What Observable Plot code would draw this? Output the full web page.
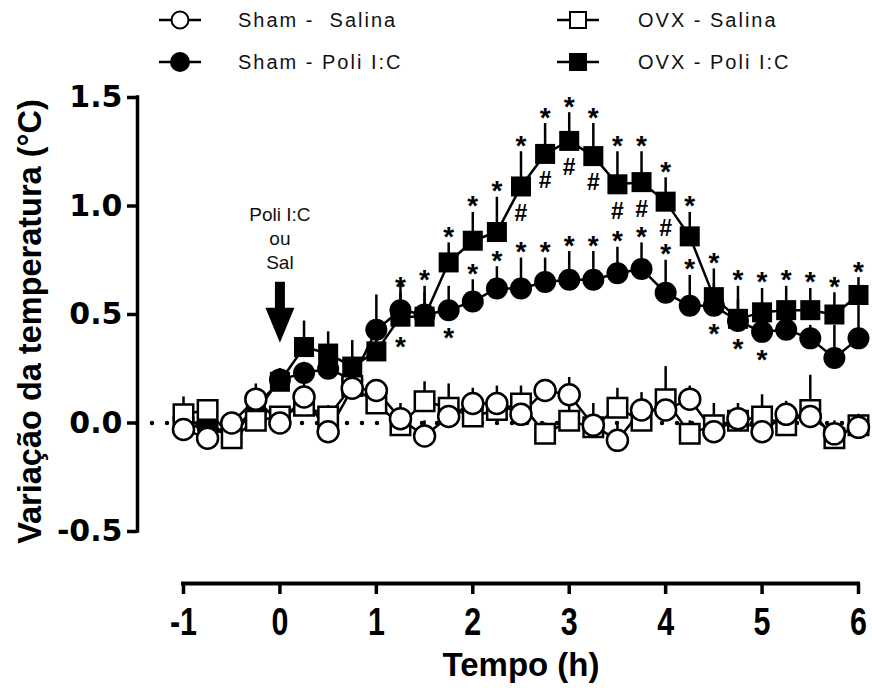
<!DOCTYPE html>
<html><head><meta charset="utf-8">
<script src="https://cdn.jsdelivr.net/npm/d3@7"></script>
<script src="https://cdn.jsdelivr.net/npm/@observablehq/plot@0.6"></script>
<style>
body{margin:0;background:#fff;}
svg{display:block}
#legend text{font-family:"Liberation Sans",Arial,sans-serif;font-size:20px;letter-spacing:2px;white-space:pre;fill:#111;}
</style></head><body>
<svg id="legend" width="872" height="80"></svg>
<div id="chart"></div>
<script>
// ---- data ----
const times = [-1,-0.75,-0.5,-0.25,0,0.25,0.5,0.75,1,1.25,1.5,1.75,2,2.25,2.5,2.75,3,3.25,3.5,3.75,4,4.25,4.5,4.75,5,5.25,5.5,5.75,6];

const shamSalina    = [-0.03,-0.07,0.00,0.11,0.00,0.12,-0.04,0.16,0.15,0.02,-0.06,0.03,0.09,0.09,0.04,0.15,0.13,-0.01,-0.08,0.06,0.06,0.11,-0.04,0.02,-0.04,0.04,0.03,-0.05,-0.02];
const shamSalinaSem = [0.03,0.03,0.03,0.07,0.03,0.09,0.04,0.04,0.03,0.07,0.07,0.04,0.07,0.08,0.04,0.05,0.08,0.10,0.07,0.08,0.04,0.06,0.04,0.07,0.04,0.06,0.04,0.06,0.06];

const ovxSalina     = [0.04,0.06,-0.07,0.01,0.03,0.08,0.03,0.17,0.09,-0.01,0.10,0.07,0.03,0.06,0.09,-0.05,0.01,-0.02,0.07,0.01,0.11,-0.05,-0.01,0.01,0.03,-0.01,0.06,-0.07,-0.01];
const ovxSalinaSem  = [0.08,0.04,0.04,0.05,0.04,0.05,0.05,0.06,0.07,0.05,0.09,0.11,0.05,0.05,0.08,0.05,0.10,0.05,0.09,0.04,0.15,0.06,0.10,0.04,0.10,0.04,0.16,0.05,0.04];

const shamPoli      = [0.02,-0.02,-0.04,0.05,0.20,0.23,0.25,0.20,0.43,0.52,0.50,0.52,0.56,0.62,0.62,0.65,0.66,0.66,0.69,0.71,0.60,0.54,0.54,0.47,0.42,0.43,0.39,0.30,0.39];
const shamPoliSem   = [0.03,0.03,0.03,0.04,0.05,0.05,0.05,0.05,0.16,0.13,0.10,0.11,0.10,0.10,0.14,0.11,0.13,0.13,0.12,0.12,0.15,0.14,0.10,0.10,0.08,0.05,0.06,0.15,0.18];

const ovxPoli       = [0.00,-0.03,-0.05,0.08,0.19,0.35,0.32,0.26,0.33,0.49,0.49,0.74,0.84,0.88,1.09,1.24,1.30,1.23,1.10,1.11,1.02,0.86,0.58,0.48,0.51,0.52,0.52,0.50,0.59];
const ovxPoliSem    = [0.05,0.04,0.04,0.05,0.06,0.12,0.10,0.12,0.10,0.11,0.14,0.09,0.13,0.16,0.16,0.14,0.13,0.15,0.15,0.14,0.11,0.11,0.13,0.15,0.11,0.11,0.10,0.10,0.08];

const seriesNames = ["Sham -  Salina", "Sham - Poli I:C", "OVX - Salina", "OVX - Poli I:C"];

// significance marks
const starsAboveOvxPoli = [1.25,1.5,1.75,2,2.25,2.5,2.75,3,3.25,3.5,3.75,4,4.25,4.5,4.75,5,5.25,5.5,5.75,6];
const starsAboveShamPoli = [2,2.25,2.5,2.75,3,3.25,3.5,3.75,4,4.25];
const starsBelowShamPoli = [1.75,4.5,4.75,5];
const starsBelowOvxPoli = [1.25];
const hashesBelowOvxPoli = [2.5,2.75,3,3.25,3.5,3.75,4];

// injection arrow annotation
const arrowTime = 0;
const arrowTipValue = 0.37;
const arrowLabelValue = 0.855;
const arrowLabel = "Poli I:C\nou\nSal";

const xTicks = [-1,0,1,2,3,4,5,6];
const yTicks = [-0.5,0,0.5,1,1.5];
const xTitle = "Tempo (h)";
const yTitle = "Variação da temperatura (°C)";

// ---- build tables ----
const rows = (vals, sems) => times.map((t, i) => ({t, v: vals[i], sem: sems[i]}));
const sS = rows(shamSalina, shamSalinaSem);
const oS = rows(ovxSalina, ovxSalinaSem);
const sP = rows(shamPoli, shamPoliSem);
const oP = rows(ovxPoli, ovxPoliSem);
const at = (tbl, t) => tbl.find(d => d.t === t);
const above = (tbl, ts) => ts.map(t => { const d = at(tbl, t); return {t, y: d.v + d.sem}; });
const below = (tbl, ts) => ts.map(t => { const d = at(tbl, t); return {t, y: d.v}; });

const xDomain = [-1.477, 6];
const yDomain = [-0.7396, 1.5];

const arrowSymbol = {
  draw(ctx, size) {
    const r = Math.sqrt(size / Math.PI);
    ctx.moveTo(-0.5 * r, -6.1 * r);
    ctx.lineTo(0.5 * r, -6.1 * r);
    ctx.lineTo(0.5 * r, -3.5 * r);
    ctx.lineTo(1.45 * r, -3.5 * r);
    ctx.lineTo(0, 0);
    ctx.lineTo(-1.45 * r, -3.5 * r);
    ctx.lineTo(-0.5 * r, -3.5 * r);
    ctx.closePath();
  }
};

const lw = 2.5;
const bars = (tbl) => Plot.ruleX(tbl, {x: "t", y1: "v", y2: d => d.v + d.sem, stroke: "black", strokeWidth: lw});
const line = (tbl) => Plot.line(tbl, {x: "t", y: "v", stroke: "black", strokeWidth: lw});
const starFont = {fontSize: 28, fontWeight: "bold", fontFamily: "Liberation Sans, Arial, sans-serif", lineAnchor: "middle", fill: "black"};

const chart = Plot.plot({
  width: 872, height: 608,
  marginLeft: 137, marginRight: 14, marginTop: 17, marginBottom: 105,
  x: {domain: xDomain},
  y: {domain: yDomain},
  style: {fontFamily: "Liberation Sans, Arial, sans-serif", background: "white", overflow: "visible"},
  marks: [
    Plot.ruleY([0], {stroke: "black", strokeWidth: 4.5, strokeDasharray: "0 15", strokeLinecap: "round"}),
    // filled series
    bars(oP), bars(sP),
    line(oP), line(sP),
    Plot.dot(oP, {x: "t", y: "v", symbol: "square", r: 11.3, fill: "black", stroke: "none"}),
    Plot.dot(sP, {x: "t", y: "v", symbol: "circle", r: 11, fill: "black", stroke: "none"}),
    // open series
    bars(oS), bars(sS),
    line(oS), line(sS),
    Plot.dot(oS, {x: "t", y: "v", symbol: "square", r: 11, fill: "white", stroke: "black", strokeWidth: lw}),
    Plot.dot(sS, {x: "t", y: "v", symbol: "circle", r: 10.5, fill: "white", stroke: "black", strokeWidth: lw}),
    // significance marks
    Plot.text(above(oP, starsAboveOvxPoli), {x: "t", y: "y", text: () => "*", dy: -6, ...starFont}),
    Plot.text(above(sP, starsAboveShamPoli), {x: "t", y: "y", text: () => "*", dy: -6, ...starFont}),
    Plot.text(below(sP, starsBelowShamPoli), {x: "t", y: "y", text: () => "*", dy: 28, ...starFont}),
    Plot.text(below(oP, starsBelowOvxPoli), {x: "t", y: "y", text: () => "*", dy: 30, ...starFont}),
    Plot.text(below(oP, hashesBelowOvxPoli), {x: "t", y: "y", text: () => "#", dy: 27, ...starFont, fontSize: 23}),
    // arrow
    Plot.dot([{t: arrowTime, v: arrowTipValue}], {x: "t", y: "v", symbol: arrowSymbol, r: 10, fill: "black", stroke: "none"}),
    Plot.text([{t: arrowTime, v: arrowLabelValue}], {x: "t", y: "v", text: () => arrowLabel, fontSize: 19, lineHeight: 1.25, lineAnchor: "middle", fill: "#111"}),
    // axes
    Plot.ruleX([xDomain[0]], {y1: yTicks[0], y2: yTicks[yTicks.length - 1], stroke: "black", strokeWidth: 3.5, strokeLinecap: "square"}),
    Plot.axisY({ticks: yTicks, tickSize: 10, tickPadding: 5, strokeWidth: 3.5, fontSize: 30, fontWeight: "bold",
      fontFamily: "DejaVu Sans, sans-serif", tickFormat: d => d.toFixed(1), label: null, fill: "black"}),
    Plot.ruleY([yDomain[0]], {x1: xTicks[0], x2: xTicks[xTicks.length - 1], stroke: "black", strokeWidth: 4, strokeLinecap: "square"}),
    Plot.axisX({ticks: xTicks, tickSize: 11, tickPadding: 14, strokeWidth: 3.5, fontSize: 38, fontWeight: "bold",
      fontFamily: "Liberation Sans, Arial, sans-serif", tickFormat: d => String(d), label: null, fill: "black"}),
    Plot.text([xTitle], {x: (xTicks[0] + xTicks[xTicks.length - 1]) / 2, frameAnchor: "bottom", dy: 82, text: d => d,
      fontSize: 33, fontWeight: "bold", lineAnchor: "middle", fill: "black", ariaLabel: "x title"}),
    Plot.text([yTitle], {y: (yTicks[0] + yTicks[yTicks.length - 1]) / 2, frameAnchor: "left", dx: -107, dy: 7, rotate: -90, text: d => d,
      fontSize: 32.5, fontWeight: "bold", lineAnchor: "middle", textAnchor: "middle", fill: "black"})
  ]
});
document.getElementById("chart").append(chart);

// condensed look of the x tick labels and x title
const condense = (sel, k) => d3.select(chart).selectAll(sel).each(function() {
  const tr = this.getAttribute("transform");
  if (tr && tr.includes("translate")) this.setAttribute("transform", tr + ` scale(${k},1)`);
});
condense('g[aria-label="x-axis tick label"] text', 0.8);
condense('g[aria-label="x title"] text', 0.84);

// ---- legend ----
const lg = d3.select("#legend");
const legendItems = [
  {name: seriesNames[0], shape: "circle", filled: false, col: 0, row: 0},
  {name: seriesNames[1], shape: "circle", filled: true, col: 0, row: 1},
  {name: seriesNames[2], shape: "square", filled: false, col: 1, row: 0},
  {name: seriesNames[3], shape: "square", filled: true, col: 1, row: 1}
];
const colX = [180, 578], rowY = [20, 62], textX = [238, 638];
for (const it of legendItems) {
  const cx = colX[it.col], cy = rowY[it.row];
  lg.append("line").attr("x1", cx - 21).attr("x2", cx + 21).attr("y1", cy).attr("y2", cy).attr("stroke", "black").attr("stroke-width", 2.5);
  if (it.shape === "circle") {
    lg.append("circle").attr("cx", cx).attr("cy", cy).attr("r", it.filled ? 10 : 8.5)
      .attr("fill", it.filled ? "black" : "white").attr("stroke", "black").attr("stroke-width", it.filled ? 0 : 2);
  } else {
    const s = it.filled ? 18 : 16;
    lg.append("rect").attr("x", cx - s / 2).attr("y", cy - s / 2).attr("width", s).attr("height", s)
      .attr("fill", it.filled ? "black" : "white").attr("stroke", "black").attr("stroke-width", it.filled ? 0 : 2);
  }
  lg.append("text").attr("x", textX[it.col]).attr("y", cy).attr("dy", "0.35em").text(it.name);
}
</script>
</body></html>
